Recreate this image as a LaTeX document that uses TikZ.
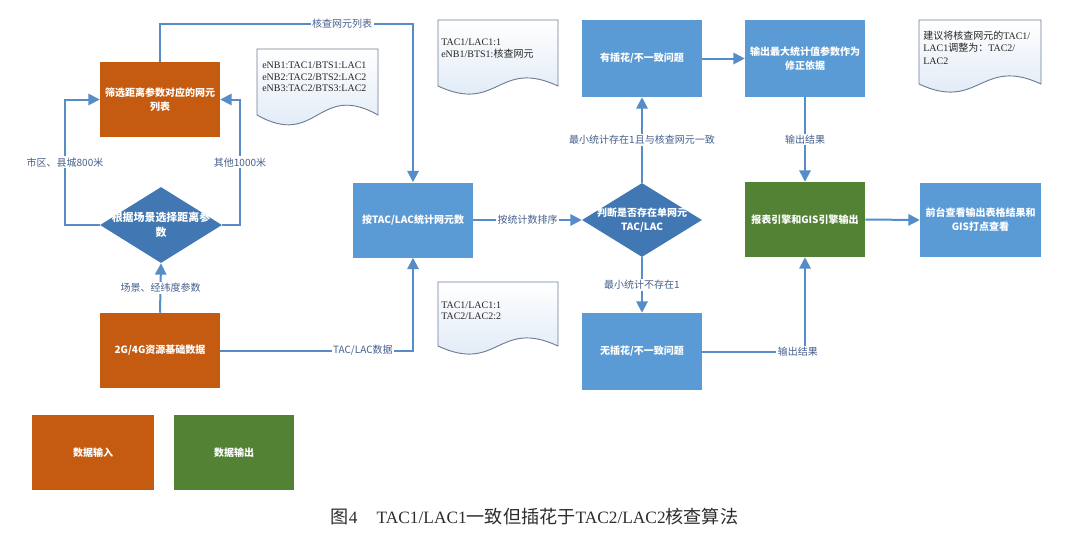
\documentclass[tikz,border=0pt]{standalone}
\usepackage{fontspec}
\setmainfont{Liberation Serif}
\newfontfamily\cjk{Noto Sans CJK SC}
\usetikzlibrary{shapes.geometric,arrows.meta}
\definecolor{ora}{RGB}{197,90,17}
\definecolor{bbox}{RGB}{91,155,213}
\definecolor{dbox}{RGB}{65,119,178}
\definecolor{gbox}{RGB}{84,130,53}
\definecolor{lnc}{RGB}{86,140,200}
\definecolor{lblc}{RGB}{70,95,140}
\definecolor{docb}{RGB}{110,125,150}
\definecolor{docf}{RGB}{218,230,244}
\definecolor{capc}{RGB}{45,45,45}
\begin{document}
\begin{tikzpicture}[x=0.75pt,y=-0.75pt,
  boxtext/.style={text=white,font=\cjk\bfseries\fontsize{7.5}{10.5}\selectfont,align=center},
  box/.style={boxtext,draw=none,inner sep=0pt,minimum width=90pt,minimum height=56.25pt},
  bluebox/.style={box,fill=bbox},
  orabox/.style={box,fill=ora},
  grnbox/.style={box,fill=gbox},
  dia/.style={diamond,draw=none,fill=dbox,inner sep=0pt,minimum width=91.5pt,minimum height=57pt},
  conn/.style={draw=lnc,line width=1.5pt,-{Triangle[length=8.5pt,width=8.5pt]}},
  lbl/.style={fill=white,inner sep=1pt,text=lblc,font=\cjk\fontsize{7.5}{9}\selectfont},
  docst/.style={draw=docb,line width=0.7pt,top color=white,bottom color=docf},
  doctext/.style={font=\fontsize{7.5}{8.6}\selectfont,align=left,anchor=west,inner sep=0pt,text=black!85}
]
\useasboundingbox[fill=white] (0,0) rectangle (1080,540);

% documents
\path[docst] (257,49) -- (378,49) -- (378,115) .. controls +(-60,-34) and +(60,34) .. (257,115) -- cycle;
\node[doctext] (d1) at (262,77) {eNB1:TAC1/BTS1:LAC1\\eNB2:TAC2/BTS2:LAC2\\eNB3:TAC2/BTS3:LAC2};
\path[docst] (438,20) -- (558,20) -- (558,86) .. controls +(-60,-28) and +(60,28) .. (438,86) -- cycle;
\node[doctext] (d2) at (441,48.5) {TAC1/LAC1:1\\eNB1/BTS1:{\cjk 核查网元}};
\path[docst] (919,20) -- (1041,20) -- (1041,84) .. controls +(-60,-28) and +(60,28) .. (919,84) -- cycle;
\node[doctext,font=\fontsize{7.5}{9.4}\selectfont] (d3) at (923,47.5) {{\cjk 建议将核查网元的}TAC1/\\LAC1{\cjk 调整为：}TAC2/\\LAC2};
\path[docst] (438,282) -- (558,282) -- (558,346) .. controls +(-60,-28) and +(60,28) .. (438,346) -- cycle;
\node[doctext] (d4) at (441,311) {TAC1/LAC1:1\\TAC2/LAC2:2};

% boxes
\node[orabox] (filt) at (160,99.5) {筛选距离参数对应的网元\\列表};
\node[dia,label={[boxtext,font=\cjk\bfseries\fontsize{8.2}{11}\selectfont]center:根据场景选择距离参\\数}] (scen) at (161,225) {};
\node[orabox] (base) at (160,350.5) {2G/4G资源基础数据};
\node[bluebox] (count) at (413,220) {按TAC/LAC统计网元数};
\node[dia,minimum width=90pt,minimum height=55.5pt,label={[boxtext]center:判断是否存在单网元\\TAC/LAC}] (judge) at (642,220) {};
\node[bluebox,minimum height=57.75pt] (yes) at (642,58.5) {有插花/不一致问题};
\node[bluebox,minimum height=57.75pt] (maxp) at (805,58.5) {输出最大统计值参数作为\\修正依据};
\node[grnbox] (gis) at (805,219.5) {报表引擎和GIS引擎输出};
\node[bluebox,minimum width=90.75pt,minimum height=55.5pt] (front) at (980.5,220) {前台查看输出表格结果和\\GIS打点查看};
\node[bluebox,minimum height=57.75pt] (no) at (642,351.5) {无插花/不一致问题};
\node[orabox,minimum width=91.5pt] (leg1) at (93,452.5) {数据输入};
\node[grnbox] (leg2) at (234,452.5) {数据输出};

% helper coordinates
\coordinate (t1) at (0,24);
\coordinate (l1) at (65,0);
\coordinate (r1) at (240,0);

% connectors
\draw[conn] (filt.north) -- (filt.north |- t1) -- node[lbl,pos=0.72]{核查网元列表} (count.north |- t1) -- (count.north);
\draw[conn] (scen.west) -- (scen.west -| l1) -- node[lbl]{市区、县城800米} (l1 |- filt.west) -- (filt.west);
\draw[conn] (scen.east) -- (scen.east -| r1) -- node[lbl]{其他1000米} (r1 |- filt.east) -- (filt.east);
\draw[conn] (base.north) -- node[lbl]{场景、经纬度参数} (scen.south);
\draw[conn] (base.east) -- node[lbl,pos=0.74]{TAC/LAC数据} (base.east -| count.south) -- (count.south);
\draw[conn] (count.east) -- node[lbl]{按统计数排序} (judge.west);
\draw[conn] (judge.north) -- node[lbl]{最小统计存在1且与核查网元一致} (yes.south);
\draw[conn] (judge.south) -- node[lbl]{最小统计不存在1} (no.north);
\draw[conn] (yes.east) -- (maxp.west);
\draw[conn] (maxp.south) -- node[lbl]{输出结果} (gis.north);
\draw[conn] (no.east) -- node[lbl,pos=0.93]{输出结果} (no.east -| gis.south) -- (gis.south);
\draw[conn] (gis.east) -- (front.west);

% caption
\node[text=capc,font=\fontsize{13}{15}\selectfont] (cap) at (534.5,517) {{\cjk\fontsize{13.6}{15}\selectfont 图}4\hspace{1.1em}TAC1/LAC1{\cjk\fontsize{13.6}{15}\selectfont 一致但插花于}TAC2/LAC2{\cjk\fontsize{13.6}{15}\selectfont 核查算法}};
\end{tikzpicture}
\end{document}
